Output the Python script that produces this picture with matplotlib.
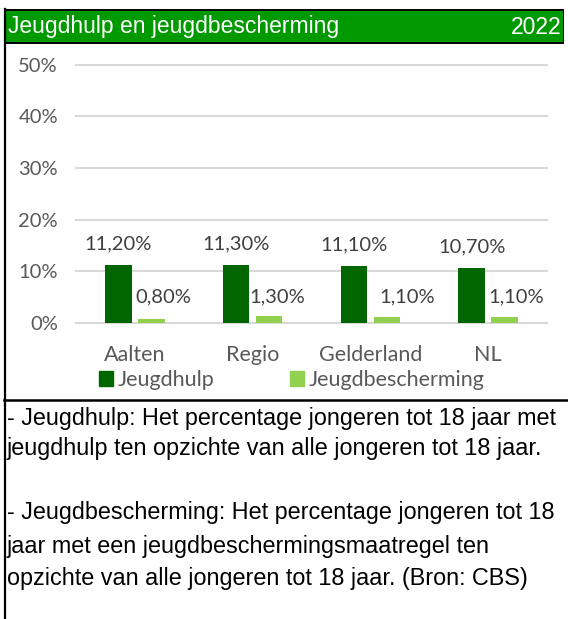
import matplotlib
matplotlib.use("Agg")
import matplotlib.pyplot as plt
from matplotlib.patches import Rectangle
from matplotlib.lines import Line2D
import numpy as np

# ---- data ----
categories = ["Aalten", "Regio", "Gelderland", "NL"]
jeugdhulp = [11.2, 11.3, 11.1, 10.7]
jeugdbescherming = [0.8, 1.3, 1.1, 1.1]
series_names = ["Jeugdhulp", "Jeugdbescherming"]
yticks = [0, 10, 20, 30, 40, 50]
title = "Jeugdhulp en jeugdbescherming"
year = "2022"
notes = [
    "- Jeugdhulp: Het percentage jongeren tot 18 jaar met",
    "jeugdhulp ten opzichte van alle jongeren tot 18 jaar.",
    "",
    "- Jeugdbescherming: Het percentage jongeren tot 18",
    "jaar met een jeugdbeschermingsmaatregel ten",
    "opzichte van alle jongeren tot 18 jaar. (Bron: CBS)",
]

def fmt(v):
    return f"{v:.2f}%".replace(".", ",")

# ---- styling ----
W, H = 568, 619
DARK = "#006600"
LIGHT = "#92D050"
HEADER = "#009900"
CHART_FONT = "Lato"
NOTE_FONT = "Liberation Sans"
light_label_dx = [8.6, 5.8, 14.4, 8.6]  # points

fig = plt.figure(figsize=(W / 100, H / 100), dpi=100)

def fx(px):
    return px / W

def fy(py):
    return 1 - py / H

# axes
ax = fig.add_axes([fx(76), fy(323), fx(547) - fx(76), fy(64.5) - fy(323)])
x = np.arange(len(categories))
bw = 0.225
off = 0.14
ax.bar(x - off, jeugdhulp, bw, color=DARK, zorder=3)
ax.bar(x + off, jeugdbescherming, bw, color=LIGHT, zorder=3)
ax.set_xlim(-0.5, len(categories) - 0.5)
ax.set_ylim(0, 50)
ax.set_yticks(yticks)
ax.set_yticklabels([f"{t}%" for t in yticks], fontsize=14.5, color="#595959",
                   family=CHART_FONT)
ax.set_xticks(x)
ax.set_xticklabels(categories, fontsize=15.5, color="#595959", family=CHART_FONT)
ax.tick_params(axis="both", length=0)
ax.tick_params(axis="y", pad=13)
ax.tick_params(axis="x", pad=16)
for s in ax.spines.values():
    s.set_visible(False)
ax.yaxis.grid(True, color="#D9D9D9", linewidth=1.5, zorder=0)
ax.set_axisbelow(True)
for gl in ax.get_ygridlines():
    gl.set_clip_on(False)

for xi, v in zip(x, jeugdhulp):
    ax.annotate(fmt(v), (xi - off, v), xytext=(0, 15), textcoords="offset points",
                ha="center", va="center", fontsize=14.5, color="#404040",
                family=CHART_FONT)
for xi, v, dx in zip(x, jeugdbescherming, light_label_dx):
    ax.annotate(fmt(v), (xi + off, 5.0), xytext=(dx, 0), textcoords="offset points",
                ha="center", va="center", fontsize=14.5, color="#404040",
                family=CHART_FONT)

handles = [Rectangle((0, 0), 1, 1, color=DARK), Rectangle((0, 0), 1, 1, color=LIGHT)]
leg = fig.legend(handles, series_names, loc="center", bbox_to_anchor=(fx(292), fy(380)),
                 ncol=2, frameon=False, handlelength=0.66, handleheight=0.66,
                 handletextpad=0.22, columnspacing=3.5,
                 prop={"family": CHART_FONT, "size": 15.5})
for t in leg.get_texts():
    t.set_color("#595959")

# header box
fig.patches.append(Rectangle((fx(4), fy(44)), fx(564) - fx(4), fy(9) - fy(44),
                             transform=fig.transFigure, facecolor="black",
                             edgecolor="none", zorder=0))
fig.patches.append(Rectangle((fx(6), fy(42)), fx(563) - fx(6), fy(11) - fy(42),
                             transform=fig.transFigure, facecolor=HEADER,
                             edgecolor="none", zorder=1))
fig.text(fx(8), fy(27), title, color="white", fontsize=16.5, family=NOTE_FONT,
         ha="left", va="center")
fig.text(fx(561), fy(27), year, color="white", fontsize=16.5, family=NOTE_FONT,
         ha="right", va="center")

# borders
fig.add_artist(Line2D([fx(5), fx(5)], [fy(9), fy(619)], color="black", linewidth=1.6,
                      transform=fig.transFigure))
fig.add_artist(Line2D([fx(4), fx(568)], [fy(400), fy(400)], color="black", linewidth=1.8,
                      transform=fig.transFigure))

# notes
line_y = [418, 449, 480, 513, 546, 579]
for txt, yy in zip(notes, line_y):
    if txt:
        fig.text(fx(7), fy(yy), txt, fontsize=16.8, family=NOTE_FONT, color="black",
                 ha="left", va="center")

fig.savefig("out.png", dpi=100)
